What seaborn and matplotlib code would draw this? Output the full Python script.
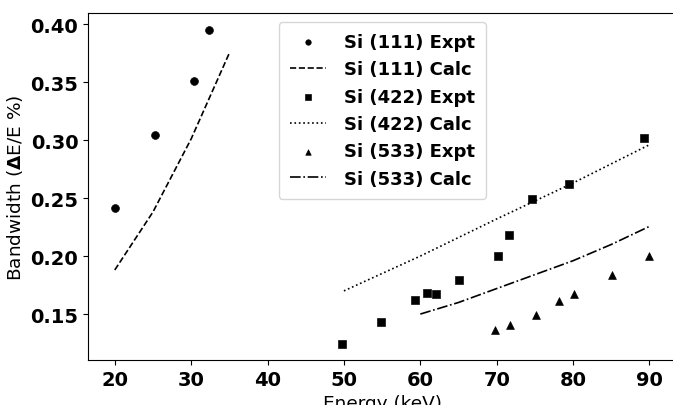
from matplotlib import pyplot as plt
import seaborn as sns
import pandas as pd

# Si (111)
e111_expt = [20.0, 25.3, 30.4, 32.4]
bw111_expt = [0.241, 0.304, 0.351, 0.395]
e111_calc = [20, 25, 30, 35]
bw111_calc = [0.188, 0.238, 0.301, 0.375]

# Si (422)
e422_expt = [49.8, 54.8, 59.3, 60.9, 62.1, 65.1, 70.2, 71.6, 74.6, 79.5, 89.3]
bw422_expt = [0.124, 0.143, 0.162, 0.168, 0.167, 0.179, 0.200, 0.218, 0.249, 0.262, 0.302]
e422_calc = [50, 60, 70, 80, 90]
bw422_calc = [0.170, 0.200, 0.232, 0.263, 0.296]

# Si (533)
e533_expt = [69.8, 71.8, 75.1, 78.1, 80.1, 85.1, 90.0]
bw533_expt = [0.136, 0.141, 0.149, 0.161, 0.167, 0.184, 0.200]
e533_calc = [60, 65, 70, 75, 80, 85, 90]
bw533_calc = [0.150, 0.160, 0.172, 0.184, 0.196, 0.210, 0.2256]

sns.set_style("ticks", {"axes.edgecolor": "black", "xtick.color": "black",
                        "ytick.color": "black", "text.color": "black",
                        "axes.labelcolor": "black"})
plt.rcParams['font.family'] = ['DejaVu Sans']

fig = plt.figure(figsize=(6.73, 4.06), dpi=100)
ax = fig.add_axes([0.1308, 0.1108, 0.874, 0.8547])

sns.scatterplot(x=e111_expt, y=bw111_expt, marker="o", color="black", s=32, edgecolor="black", ax=ax, label="Si (111) Expt")
sns.lineplot(x=e111_calc, y=bw111_calc, color="black", linestyle="--", linewidth=1.2, ax=ax, label="Si (111) Calc")
sns.scatterplot(x=e422_expt, y=bw422_expt, marker="s", color="black", s=32, edgecolor="black", ax=ax, label="Si (422) Expt")
sns.lineplot(x=e422_calc, y=bw422_calc, color="black", linestyle=":", linewidth=1.2, ax=ax, label="Si (422) Calc")
sns.scatterplot(x=e533_expt, y=bw533_expt, marker="^", color="black", s=32, edgecolor="black", ax=ax, label="Si (533) Expt")
sns.lineplot(x=e533_calc, y=bw533_calc, color="black", linestyle="-.", linewidth=1.2, ax=ax, label="Si (533) Calc")

ax.set_xlim(16.5, 93.5)
ax.set_ylim(0.1104, 0.4095)
ax.set_xticks([20, 30, 40, 50, 60, 70, 80, 90])
ax.set_yticks([0.15, 0.20, 0.25, 0.30, 0.35, 0.40])
ax.set_yticklabels(["0.15", "0.20", "0.25", "0.30", "0.35", "0.40"])
for lab in ax.get_xticklabels() + ax.get_yticklabels():
    lab.set_fontweight("bold")
    lab.set_fontsize(14)

ax.set_xlabel("Energy (keV)", fontsize=13.3)
ax.set_ylabel(r"Bandwidth ($\mathbf{\Delta}$E/E %)", fontsize=13.3)

ax.legend(loc="upper center", prop={"weight": "bold", "size": 13}, markerscale=0.7,
          labelspacing=0.52, borderpad=0.6, handletextpad=1.0)

plt.savefig("out.png", dpi=100)
